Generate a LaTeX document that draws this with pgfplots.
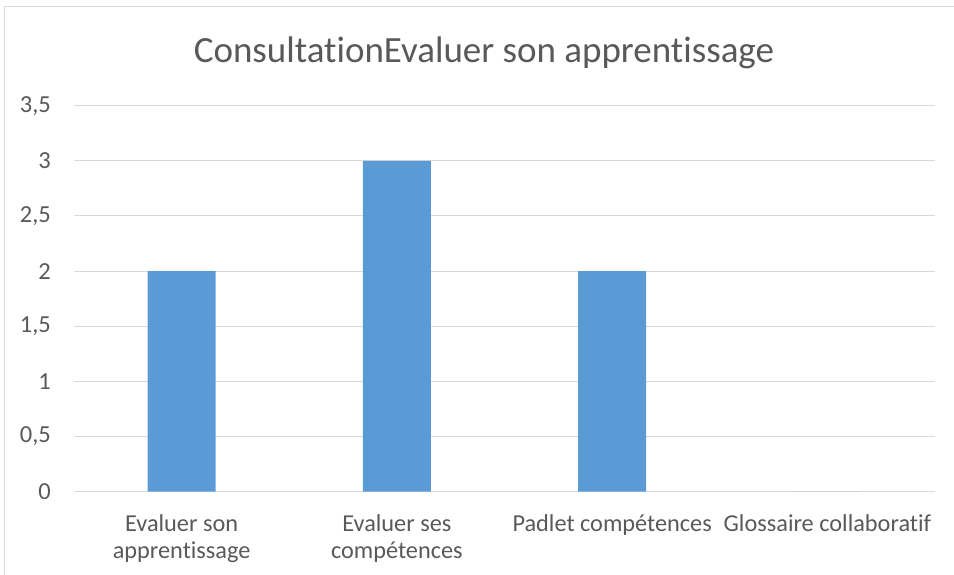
\documentclass[border=0pt]{standalone}
\usepackage{fontspec}
\setmainfont[RawFeature={-liga;-dlig;-clig}]{Carlito}
\usepackage{pgfplots}
\pgfplotsset{compat=1.18}
\definecolor{barblue}{HTML}{5B9BD5}
\definecolor{gridgray}{HTML}{D9D9D9}
\definecolor{txtgray}{HTML}{595959}
\begin{document}
\begin{tikzpicture}[x=1bp,y=1bp]
\path[use as bounding box] (0,0) rectangle (954,575);
\draw[gridgray, line width=1.5bp] (4.5,0) -- (4.5,568.5) -- (954,568.5);
\node[txtgray, anchor=base, inner sep=0, font=\fontsize{37bp}{44bp}\selectfont] at (484,512) {ConsultationEvaluer son apprentissage};
\begin{axis}[
  at={(74bp,83.3bp)}, anchor=south west,
  scale only axis, width=861bp, height=386bp,
  xmin=-0.5, xmax=3.5, ymin=0, ymax=3.5,
  ytick={0,0.5,1,1.5,2,2.5,3,3.5},
  xtick={0,1,2,3},
  xticklabels={{Evaluer son\\apprentissage},{Evaluer ses\\compétences},{Padlet compétences},{Glossaire collaboratif}},
  axis line style={draw=none},
  major tick length=0pt,
  ymajorgrids, grid style={gridgray, line width=1bp},
  /pgf/number format/assume math mode=true,
  /pgf/number format/use comma,
  yticklabel style={anchor=east, inner sep=0pt, xshift=-23bp, text=txtgray, font=\fontsize{24.5bp}{27bp}\selectfont},
  xticklabel style={anchor=north, inner sep=0pt, yshift=-23bp, align=center, text=txtgray, font=\fontsize{24.3bp}{26.5bp}\selectfont},
  clip=false,
]
\addplot[ybar, bar width=68bp, fill=barblue, draw=none] coordinates {(0,2) (1,3) (2,2) (3,0)};
\end{axis}
\end{tikzpicture}
\end{document}
